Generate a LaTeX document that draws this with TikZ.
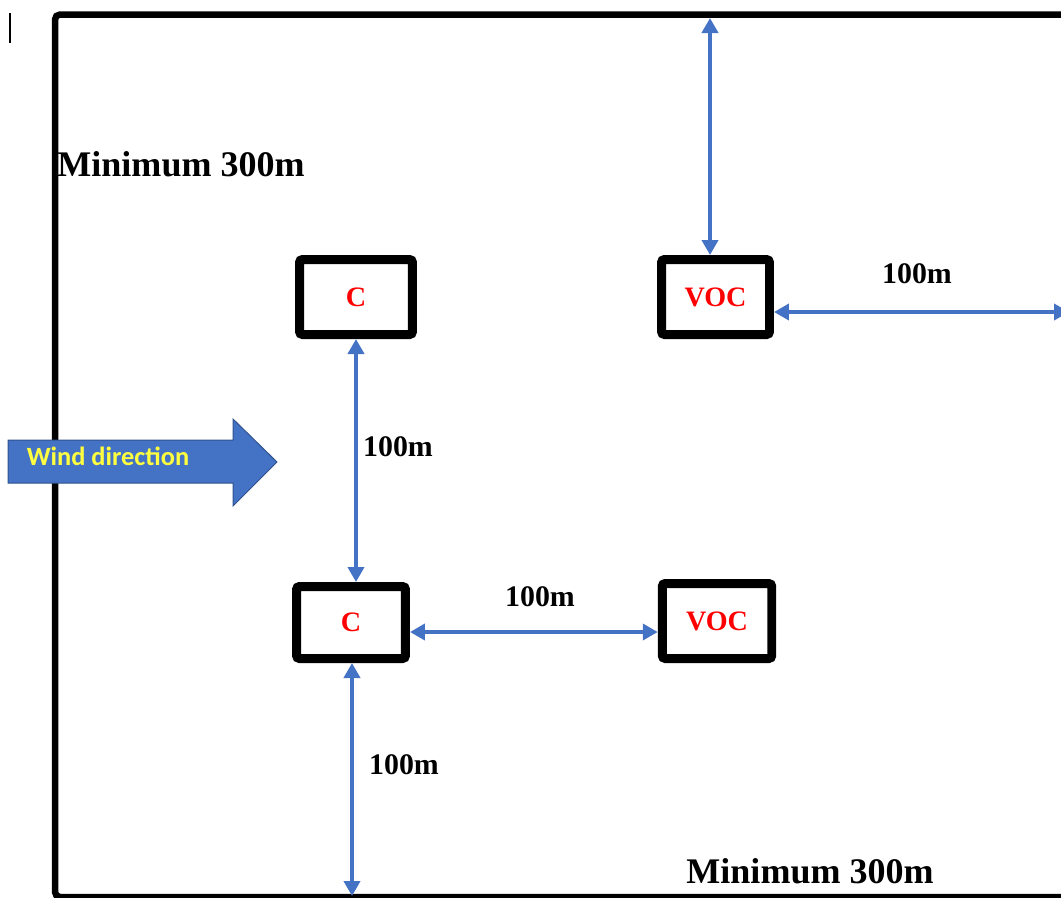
\documentclass[tikz,border=0pt]{standalone}
\usepackage{fontspec}
\setmainfont{Liberation Serif}
\newfontfamily\calib{Carlito}
\usepackage{xcolor}
\usetikzlibrary{positioning,calc,arrows.meta}

\definecolor{arrowblue}{HTML}{4472C4}
\definecolor{edgeblue}{HTML}{2F528F}
\definecolor{windyellow}{HTML}{FFFF40}

\begin{document}
\begin{tikzpicture}[
    x=0.02cm, y=-0.02cm,
    station/.style={draw, line width=0.18cm, rounded corners=0.06cm, minimum width=2.2cm, minimum height=1.5cm, inner sep=0pt, text=red, font=\fontsize{16}{19}\selectfont\bfseries},
    arrow/.style={{Triangle[length=0.3cm,width=0.32cm]}-{Triangle[length=0.3cm,width=0.32cm]}, line width=0.08cm, draw=arrowblue, color=arrowblue},
    dist/.style={font=\fontsize{17}{20}\selectfont\bfseries},
    minlabel/.style={font=\fontsize{20.5}{24}\selectfont\bfseries}
]
\useasboundingbox (0,0) rectangle (1061,897);
\begin{scope}
\clip (0,0) rectangle (1061,897);
% site boundary
\draw[line width=0.13cm, rounded corners=0.1cm] (55,14.5) rectangle (1080,897);
\draw[line width=0.04cm] (10,13) -- (10,43);

% sampling stations
\node[station, minimum width=2.26cm]                      (c1)   at (356,297)   {C};
\node[station, minimum width=2.18cm, minimum height=1.44cm] (c2) at (351,622.5) {C};
\node[station, minimum width=2.16cm]                      (voc1) at (715.5,297) {VOC};
\node[station, minimum width=2.19cm]                      (voc2) at (717,621)   {VOC};

% wind
\fill[arrowblue, draw=edgeblue, line width=0.02cm]
    (8,440) -- (233,440) -- (233,419) -- (277,462) -- (233,506) -- (233,483) -- (8,483) -- cycle;
\node[text=windyellow, font=\calib\fontsize{15}{18}\selectfont\bfseries] (wind) at (108,456) {Wind direction};

% distances
\coordinate (topend)   at (710,18);
\coordinate (rightend) at (1069,312);
\coordinate (botend)   at (352,896);

\draw[arrow] (topend) -- (topend |- voc1.north);
\draw[arrow] (voc1.east |- rightend) -- (rightend);
\draw[arrow] (c1.south) -- (c1.south |- c2.north);
\draw[arrow] ([yshift=-0.19cm]c2.east) -- ([yshift=-0.19cm]c2.east -| voc2.west);
\draw[arrow] (botend |- c2.south) -- (botend);

\node[dist] (d1) at (398,447) {100m};
\node[dist] (d2) at (917,274) {100m};
\node[dist] (d3) at (540,597) {100m};
\node[dist] (d4) at (404,765) {100m};

\node[minlabel] (m1) at (181,164) {Minimum 300m};
\node[minlabel] (m2) at (810,871) {Minimum 300m};
\end{scope}
\end{tikzpicture}
\end{document}
